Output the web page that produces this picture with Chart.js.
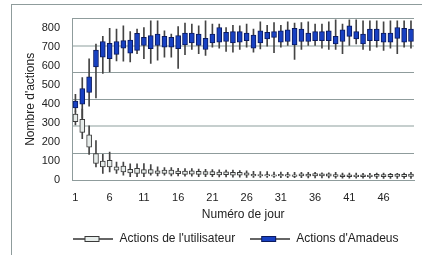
<!DOCTYPE html>
<html>
<head>
<meta charset="utf-8">
<script src="https://cdn.jsdelivr.net/npm/chart.js@4.4.1/dist/chart.umd.min.js"></script>
<style>
  html, body { margin: 0; padding: 0; background: #fff; }
  #frame { position: absolute; left: 11px; top: 4px; width: 420px; height: 260px;
           border-left: 1px solid #8f9c9c; border-top: 1px solid #8f9c9c; }
  #chart { position: absolute; left: 0; top: 0; }
</style>
</head>
<body>
<div id="frame"></div>
<canvas id="chart" width="422" height="255"></canvas>
<script>
// Days 1..50
const days = Array.from({ length: 50 }, (_, i) => String(i + 1));

// Actions de l'utilisateur (min, Q1, Q3, max)
const userMin = [291, 218, 135, 69, 35, 43, 35, 26, 17, 17, 17, 26, 21, 26, 21, 22, 20, 20, 18, 18,
  17, 16, 16, 15, 15, 14, 14, 14, 13, 13, 12, 12, 12, 12, 11, 11, 11, 11, 10, 10,
  10, 10, 10, 10, 9, 9, 9, 9, 9, 9];
const userQ1 = [308, 251, 173, 87, 69, 69, 52, 43, 38, 35, 35, 35, 35, 35, 31, 33, 30, 31, 29, 30,
  28, 27, 28, 26, 26, 25, 22, 22, 21, 20, 22, 20, 19, 22, 20, 21, 21, 20, 19, 18,
  18, 17, 18, 17, 19, 18, 18, 19, 18, 19];
const userQ3 = [348, 320, 239, 139, 100, 104, 69, 74, 56, 61, 55, 55, 48, 52, 52, 47, 47, 48, 46, 45,
  44, 42, 43, 40, 40, 38, 30, 29, 28, 27, 30, 28, 27, 32, 31, 34, 33, 32, 28, 27,
  27, 26, 27, 26, 30, 29, 30, 31, 30, 31];
const userMax = [364, 374, 286, 208, 135, 147, 95, 95, 85, 85, 87, 81, 69, 66, 66, 62, 60, 60, 58, 56,
  55, 54, 52, 52, 50, 48, 46, 45, 44, 42, 42, 40, 40, 40, 40, 40, 38, 38, 40, 36,
  36, 36, 35, 35, 36, 36, 35, 35, 36, 40];

// Actions d'Amadeus (min, Q1, Q3, max)
const amaMin = [364, 327, 390, 433, 563, 571, 628, 627, 623, 667, 641, 615, 632, 649, 649, 589, 661, 689, 667, 658,
  701, 696, 679, 675, 689, 701, 675, 692, 707, 672, 701, 710, 637, 689, 710, 710, 696, 689, 689, 667,
  710, 718, 689, 684, 701, 684, 696, 667, 701, 696];
const amaQ1 = [381, 400, 462, 597, 649, 641, 663, 696, 670, 684, 710, 693, 710, 701, 701, 693, 713, 724, 710, 689,
  724, 727, 731, 724, 727, 736, 696, 724, 745, 753, 727, 731, 713, 731, 731, 736, 736, 736, 718, 731,
  758, 745, 718, 736, 736, 727, 727, 748, 727, 731];
const amaQ3 = [416, 483, 545, 686, 731, 722, 731, 736, 739, 774, 753, 762, 770, 758, 753, 762, 776, 776, 770, 748,
  770, 805, 779, 783, 783, 776, 765, 788, 779, 783, 788, 793, 800, 797, 776, 783, 783, 788, 758, 793,
  814, 783, 770, 797, 797, 776, 776, 805, 800, 797];
const amaMax = [452, 540, 640, 718, 758, 800, 797, 814, 783, 797, 804, 840, 840, 788, 770, 810, 828, 823, 814, 840,
  823, 823, 805, 817, 814, 823, 797, 835, 817, 831, 817, 835, 828, 831, 835, 823, 823, 835, 845, 823,
  845, 845, 840, 840, 840, 835, 840, 840, 840, 840];

const yTicks = [0, 100, 200, 300, 400, 500, 600, 700, 800];

const GRID = '#8f9c9c';
const TEXT = '#222';
const FONT = 'Liberation Sans, Arial, sans-serif';
const USER_FILL = '#e6ecea';
const USER_EDGE = '#3a3a3a';
const AMA_FILL = '#1740c2';
const AMA_EDGE = '#0b1a5e';

const pairs = (lo, hi) => lo.map((v, i) => [v, hi[i]]);

// legend symbol: line with a small box in the middle
const legendIcon = (fill, edge) => {
  const c = document.createElement('canvas');
  c.width = 40; c.height = 10;
  const g = c.getContext('2d');
  g.strokeStyle = '#333';
  g.lineWidth = 1.5;
  g.beginPath(); g.moveTo(0, 5); g.lineTo(40, 5); g.stroke();
  g.fillStyle = fill;
  g.fillRect(11.5, 2.5, 14, 5);
  g.strokeStyle = edge;
  g.lineWidth = 1;
  g.strokeRect(11.5, 2.5, 14, 5);
  return c;
};

// the original legend row sits right of centre
const legendShift = {
  id: 'legendShift',
  afterLayout(chart) {
    chart.legend.left += 26;
    chart.legend.right += 26;
  }
};

const ctx = document.getElementById('chart').getContext('2d');
new Chart(ctx, {
  type: 'bar',
  data: {
    labels: days,
    datasets: [
      {
        label: "Actions de l'utilisateur",
        data: pairs(userQ1, userQ3),
        backgroundColor: USER_FILL,
        borderColor: USER_EDGE,
        borderWidth: 1,
        borderSkipped: false,
        barThickness: 5,
        grouped: false,
        order: 0
      },
      {
        label: "Actions d'Amadeus",
        data: pairs(amaQ1, amaQ3),
        backgroundColor: AMA_FILL,
        borderColor: AMA_EDGE,
        borderWidth: 1,
        borderSkipped: false,
        barThickness: 5,
        grouped: false,
        order: 0
      },
      {
        label: 'user whiskers',
        data: pairs(userMin, userMax),
        backgroundColor: '#444',
        barThickness: 1,
        grouped: false,
        order: 1
      },
      {
        label: 'amadeus whiskers',
        data: pairs(amaMin, amaMax),
        backgroundColor: '#444',
        barThickness: 1,
        grouped: false,
        order: 1
      }
    ]
  },
  plugins: [legendShift],
  options: {
    responsive: false,
    animation: false,
    layout: { padding: { top: 16, right: 2, left: 0, bottom: 0 } },
    plugins: {
      tooltip: { enabled: false },
      legend: {
        position: 'bottom',
        labels: {
          usePointStyle: true,
          pointStyleWidth: 40,
          padding: 15,
          color: TEXT,
          font: { family: FONT, size: 12 },
          generateLabels: () => [
            { text: "Actions de l'utilisateur", pointStyle: legendIcon(USER_FILL, USER_EDGE),
              fillStyle: USER_FILL, strokeStyle: USER_EDGE, lineWidth: 0, hidden: false, datasetIndex: 0, fontColor: TEXT },
            { text: "Actions d'Amadeus", pointStyle: legendIcon(AMA_FILL, AMA_EDGE),
              fillStyle: AMA_FILL, strokeStyle: AMA_EDGE, lineWidth: 0, hidden: false, datasetIndex: 1, fontColor: TEXT }
          ]
        }
      }
    },
    scales: {
      x: {
        ticks: {
          autoSkip: false,
          maxRotation: 0,
          padding: 11,
          color: TEXT,
          font: { family: FONT, size: 11 },
          callback: (v, i) => (i % 5 === 0 ? days[i] : '')
        },
        grid: { display: false, drawTicks: false },
        border: { display: true, color: GRID },
        title: { display: true, text: 'Numéro de jour', color: TEXT,
                 font: { family: FONT, size: 12 }, padding: { top: 0, bottom: -4 } },
        afterFit: s => { s.height = 38; }
      },
      y: {
        min: 0,
        max: 852,
        afterBuildTicks: s => { s.ticks = yTicks.map(v => ({ value: v })); },
        ticks: { padding: 12, color: TEXT, font: { family: FONT, size: 11 } },
        grid: { display: false, drawTicks: false },
        border: { display: true, color: GRID },
        title: { display: true, text: "Nombre d'actions", color: TEXT,
                 font: { family: FONT, size: 12 }, padding: { top: 23, bottom: 0 } },
        afterFit: s => { s.width = 72; }
      },
      y2: {
        position: 'right',
        min: 0,
        max: 6,
        ticks: { display: false, stepSize: 1 },
        grid: {
          drawTicks: false,
          color: c => (c.tick && (c.tick.value === 2 || c.tick.value === 5) ? '#c6cfce' : GRID),
          lineWidth: c => (c.tick && (c.tick.value === 2 || c.tick.value === 5) ? 2 : 1)
        },
        border: { display: false },
        afterFit: s => { s.width = 0; }
      }
    }
  }
});
</script>
</body>
</html>
